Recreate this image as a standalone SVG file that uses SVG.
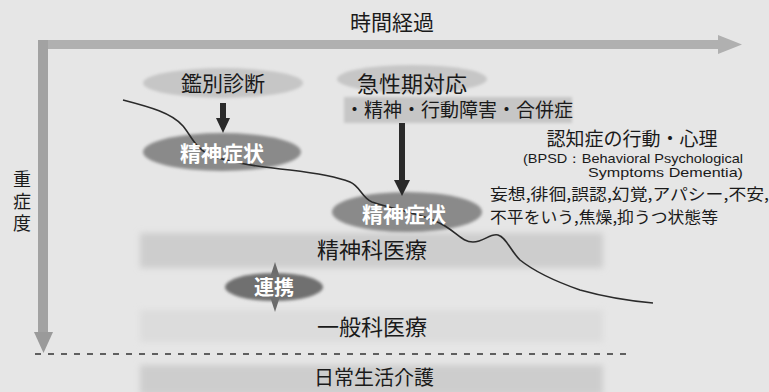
<svg xmlns="http://www.w3.org/2000/svg" width="769" height="392" viewBox="0 0 769 392">
<style>
  .jp { font-family: "Noto Sans CJK JP", "Noto Sans", sans-serif; fill: #1a1a1a; }
  .wt { font-family: "Noto Sans CJK JP", "Noto Sans", sans-serif; fill: #ffffff; font-weight: bold; }
  .en { font-family: "Liberation Sans", Arial, sans-serif; fill: #1a1a1a; }
  .light { fill: #c6c6c6; }
  .dark { fill: #8a8a8a; }
  .band { fill: #cdcdcd; }
  .arrow { stroke: #2a2a2a; stroke-width: 6; fill: none; }
  .head { fill: #2a2a2a; }
  .axis { fill: #b0b0b0; }
</style>
<defs>
  <filter id="soft" x="-10%" y="-30%" width="120%" height="160%">
    <feGaussianBlur stdDeviation="1.5"/>
  </filter>
  <filter id="softer" x="-5%" y="-40%" width="110%" height="180%">
    <feGaussianBlur stdDeviation="3"/>
  </filter>
</defs>
<rect width="769" height="392" fill="#e6e6e6"/>

<!-- bands -->
<g id="band-psych">
  <rect class="band" x="140" y="233" width="463" height="35" filter="url(#softer)"/>
  <text class="jp" x="372" y="258" font-size="22" text-anchor="middle">精神科医療</text>
</g>
<g id="band-general">
  <rect x="140" y="310" width="463" height="32" fill="#dcdcdc" filter="url(#softer)"/>
  <text class="jp" x="372" y="335" font-size="22" text-anchor="middle">一般科医療</text>
</g>
<g id="band-care">
  <rect class="band" x="140" y="365" width="463" height="30" filter="url(#softer)"/>
  <text class="jp" x="374" y="385" font-size="20" text-anchor="middle">日常生活介護</text>
</g>

<!-- axes -->
<g id="axis-time">
  <rect class="axis" x="38" y="40" width="682" height="9"/>
  <polygon class="axis" points="718,35 742,44.5 718,54"/>
  <text class="jp" x="392" y="30" font-size="21" text-anchor="middle">時間経過</text>
</g>
<g id="axis-severity">
  <rect x="38" y="40" width="10" height="294" fill="#a2a2a2"/>
  <polygon points="34,332 53,332 43.5,353" fill="#9a9a9a"/>
  <text class="jp" x="22" y="170" font-size="18" writing-mode="vertical-rl" letter-spacing="4">重症度</text>
</g>
<line x1="35" y1="354" x2="630" y2="354" stroke="#333" stroke-width="1.5" stroke-dasharray="6 7"/>

<!-- nodes -->
<g id="node-diagnosis">
  <ellipse class="light" cx="223" cy="83" rx="80" ry="15" filter="url(#soft)"/>
  <text class="jp" x="223" y="91" font-size="21" text-anchor="middle">鑑別診断</text>
</g>
<g id="node-acute">
  <ellipse class="light" cx="412" cy="79" rx="75" ry="14" filter="url(#soft)"/>
  <rect class="light" x="344" y="97" width="228" height="26" filter="url(#soft)"/>
  <text class="jp" x="412" y="92" font-size="22" text-anchor="middle">急性期対応</text>
  <text class="jp" x="459" y="117" font-size="19" text-anchor="middle">・精神・行動障害・合併症</text>
</g>
<g id="node-symptom1">
  <ellipse class="dark" cx="222" cy="152" rx="79" ry="19" filter="url(#soft)"/>
</g>
<g id="node-symptom2">
  <ellipse class="dark" cx="407" cy="212" rx="75" ry="20" filter="url(#soft)"/>
</g>
<g id="node-renkei">
  <polygon points="275,262 283,287 275,312 267,287" fill="#6a6a6a"/>
  <ellipse cx="274" cy="287" rx="49" ry="14" fill="#707070" filter="url(#soft)"/>
</g>

<!-- connectors -->
<g id="connectors">
  <line class="arrow" x1="223" y1="103" x2="223" y2="120"/>
  <polygon class="head" points="216,118 230,118 223,133"/>
  <line class="arrow" x1="402" y1="123" x2="402" y2="182"/>
  <polygon class="head" points="394,180 410,180 402,196"/>
  <path d="M123,100 C150,107 172,113 183,126 C192,137 195,148 210,155 C230,163 260,167 290,170 C315,173 335,176 350,182 C360,186 362,198 372,202 C395,210 425,214 445,226 C458,234 463,242 473,242 C484,242 490,233 498,235 C506,237 510,250 520,260 C535,272 560,283 580,290 C605,297 630,301 653,303" fill="none" stroke="#2a2a2a" stroke-width="1.6"/>
</g>

<!-- white labels on top -->
<g id="labels-white">
  <text class="wt" x="222" y="161" font-size="21" text-anchor="middle">精神症状</text>
  <text class="wt" x="404" y="222" font-size="21" text-anchor="middle">精神症状</text>
  <text class="wt" x="274" y="295" font-size="20" text-anchor="middle">連携</text>
</g>

<!-- BPSD note -->
<g id="note-bpsd">
  <text class="jp" x="632" y="146" font-size="19" text-anchor="middle">認知症の行動・心理</text>
  <text class="en" x="523" y="163" font-size="13" textLength="220" lengthAdjust="spacingAndGlyphs">(BPSD：Behavioral Psychological</text>
  <text class="en" x="588" y="177" font-size="13" textLength="155" lengthAdjust="spacingAndGlyphs">Symptoms Dementia)</text>
  <text class="jp" x="490" y="200" font-size="16" textLength="279" lengthAdjust="spacingAndGlyphs">妄想,徘徊,誤認,幻覚,アパシー,不安,</text>
  <text class="jp" x="490" y="223" font-size="16" textLength="228" lengthAdjust="spacingAndGlyphs">不平をいう,焦燥,抑うつ状態等</text>
</g>
</svg>
